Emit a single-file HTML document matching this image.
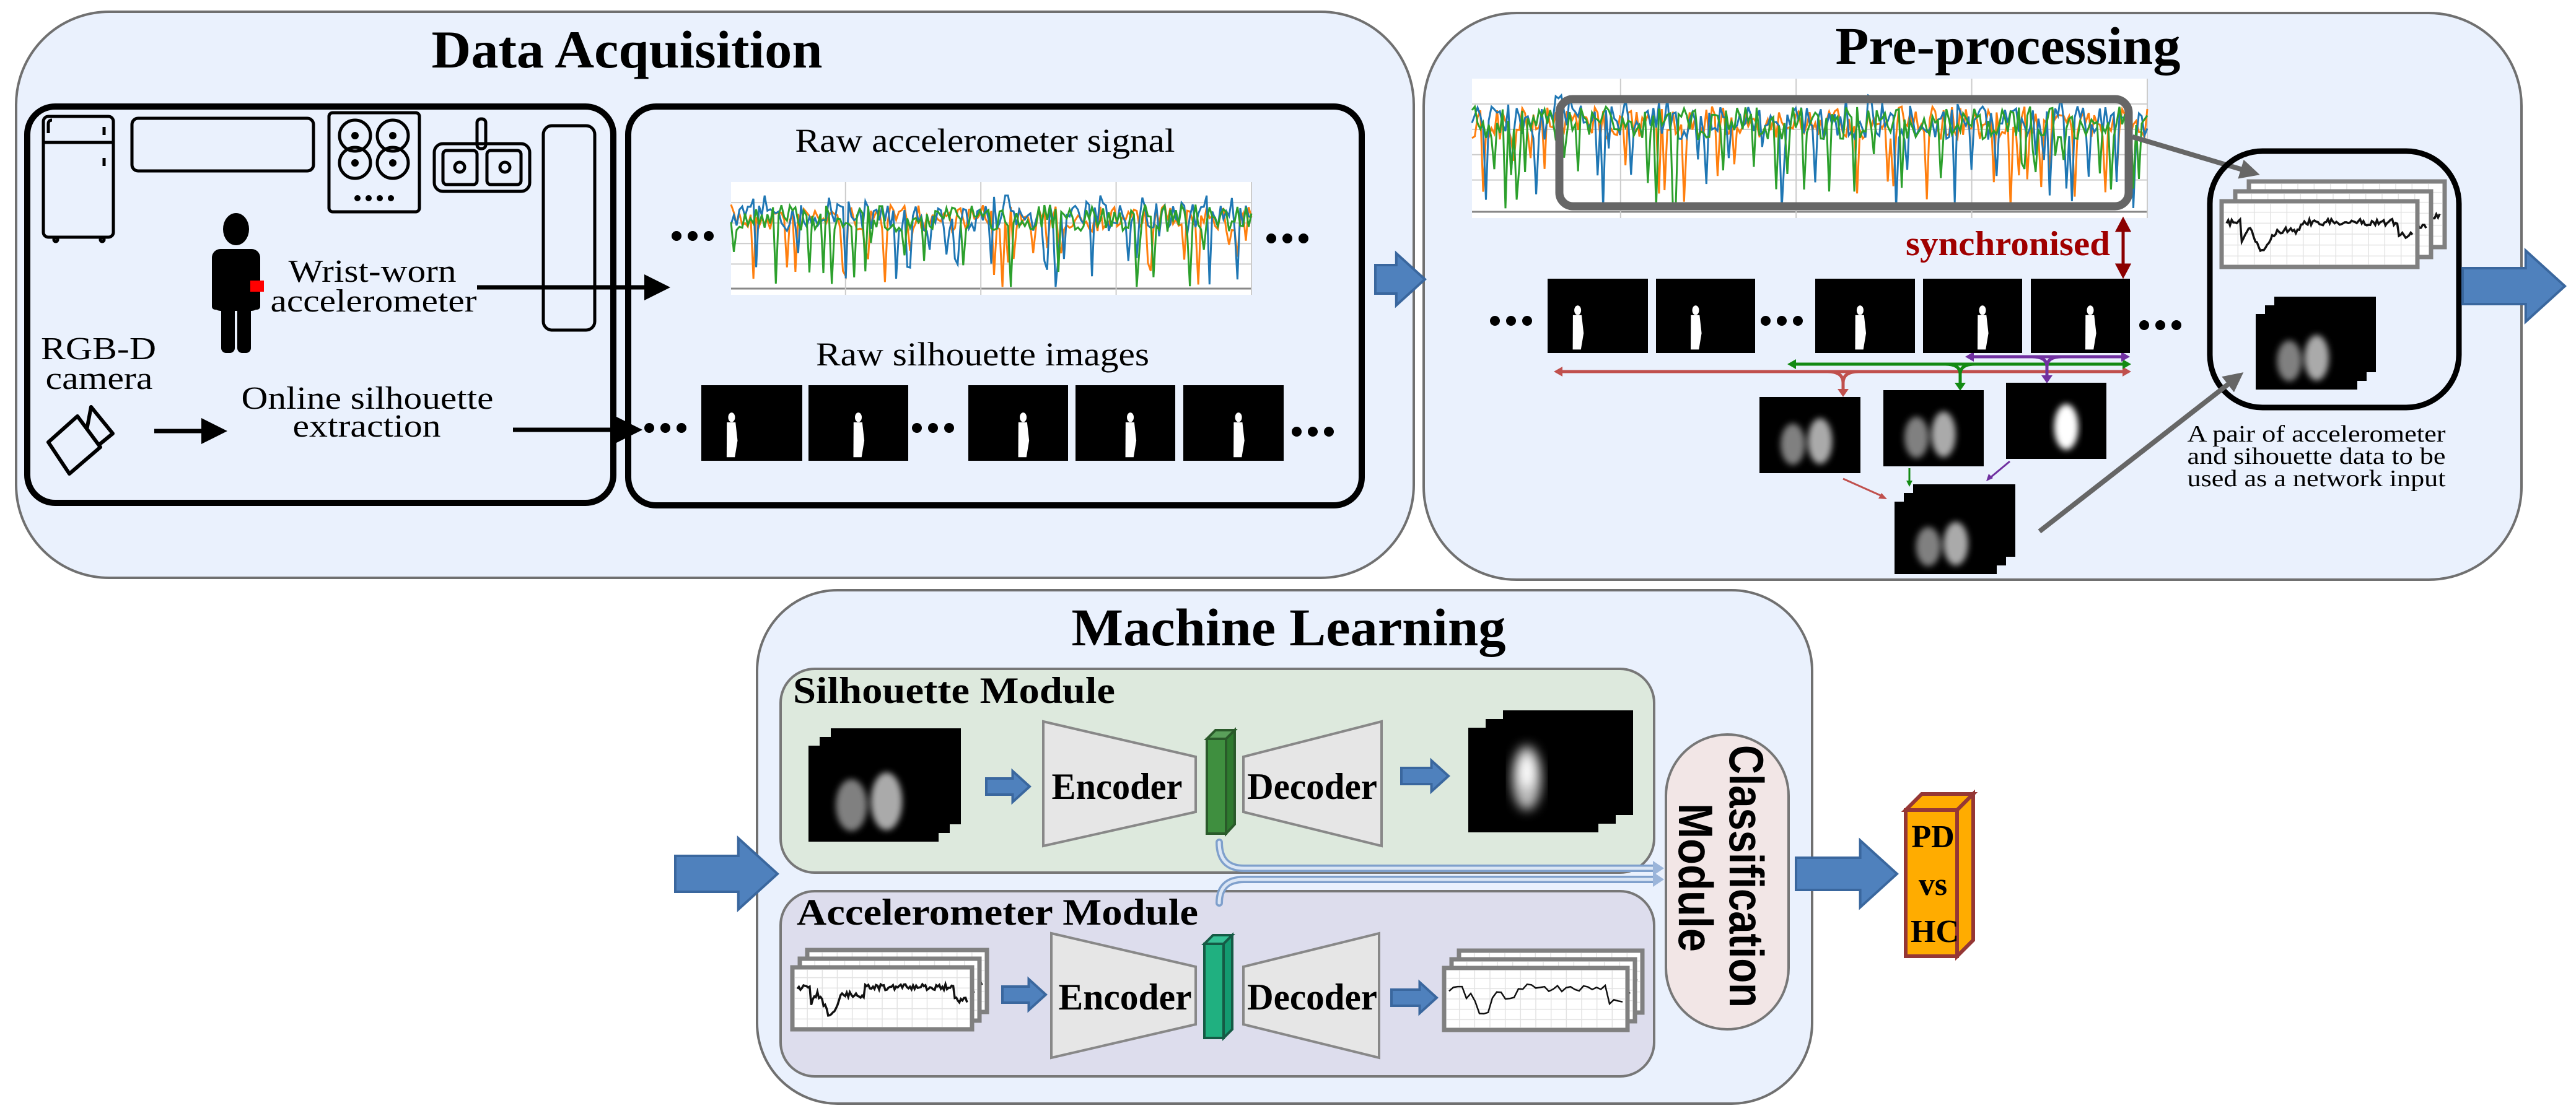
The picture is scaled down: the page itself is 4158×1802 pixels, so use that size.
<!DOCTYPE html>
<html><head><meta charset="utf-8">
<style>
html,body{margin:0;padding:0;background:#fff;}
svg{display:block;}
.t{font-family:"Liberation Serif",serif;fill:#000;}
.b{font-weight:bold;}
</style></head>
<body>
<svg id="s" xmlns="http://www.w3.org/2000/svg" width="4158" height="1802" viewBox="0 0 4158 1802">
<defs>
<filter id="bl" x="-20%" y="-20%" width="140%" height="140%"><feGaussianBlur stdDeviation="5"/></filter>
<filter id="bl2" x="-20%" y="-20%" width="140%" height="140%"><feGaussianBlur stdDeviation="9"/></filter>
<marker id="ah" markerWidth="6" markerHeight="6" refX="5" refY="3" orient="auto" markerUnits="strokeWidth"><path d="M0,0 L6,3 L0,6 z" fill="#000"/></marker>
<marker id="ahg" markerWidth="4" markerHeight="4" refX="3" refY="2" orient="auto" markerUnits="strokeWidth"><path d="M0,0 L4,2 L0,4 z" fill="#666"/></marker>
</defs>

<rect x="26" y="19" width="2256" height="914" rx="150" ry="150" fill="#eaf1fd" stroke="#707070" stroke-width="4"/>
<rect x="2298" y="21" width="1772" height="915" rx="150" ry="150" fill="#eaf1fd" stroke="#707070" stroke-width="4"/>
<rect x="1222" y="953" width="1703" height="829" rx="130" ry="130" fill="#eaf1fd" stroke="#707070" stroke-width="4"/>

<text class="t b" x="1012" y="109" font-size="86" text-anchor="middle" textLength="631" lengthAdjust="spacingAndGlyphs">Data Acquisition</text>
<text class="t b" x="3241" y="103" font-size="86" text-anchor="middle" textLength="557" lengthAdjust="spacingAndGlyphs">Pre-processing</text>
<text class="t b" x="2080" y="1042" font-size="86" text-anchor="middle" textLength="701" lengthAdjust="spacingAndGlyphs">Machine Learning</text>

<rect x="44" y="172" width="946" height="640" rx="45" fill="none" stroke="#000" stroke-width="10"/>
<rect x="1014" y="172" width="1184" height="644" rx="45" fill="none" stroke="#000" stroke-width="10"/>

<g fill="none" stroke="#000" stroke-width="5">
<rect x="70" y="188" width="113" height="195" rx="8"/>
<line x1="70" y1="230" x2="183" y2="230"/>
<line x1="168" y1="205" x2="168" y2="218"/><line x1="168" y1="255" x2="168" y2="268"/>
<path d="M78,215 v-15 q0,-6 6,-6"/>
<circle cx="90" cy="387" r="3"/><circle cx="165" cy="387" r="3"/>
<rect x="213" y="191" width="293" height="85" rx="10"/>
<rect x="531" y="182" width="146" height="160" rx="6"/>
<circle cx="573" cy="219" r="25"/><circle cx="634" cy="219" r="25"/>
<circle cx="573" cy="263" r="25"/><circle cx="634" cy="263" r="25"/>
<rect x="701" y="232" width="154" height="77" rx="14"/>
<rect x="715" y="243" width="55" height="55" rx="6"/><rect x="786" y="243" width="55" height="55" rx="6"/>
<circle cx="742" cy="270" r="8"/><circle cx="815" cy="270" r="8"/>
<rect x="770" y="192" width="14" height="48" rx="6"/>
<rect x="877" y="203" width="83" height="330" rx="14"/>
</g>
<g fill="#000">
<circle cx="573" cy="219" r="6"/><circle cx="634" cy="219" r="6"/><circle cx="573" cy="263" r="6"/><circle cx="634" cy="263" r="6"/>
<circle cx="577" cy="320" r="5"/><circle cx="595" cy="320" r="5"/><circle cx="613" cy="320" r="5"/><circle cx="631" cy="320" r="5"/>
<ellipse cx="381" cy="370" rx="21" ry="26"/>
<rect x="342" y="402" width="78" height="100" rx="14"/>
<rect x="342" y="440" width="12" height="60" rx="5"/><rect x="408" y="440" width="12" height="60" rx="5"/>
<rect x="357" y="470" width="22" height="100" rx="8"/><rect x="383" y="470" width="22" height="100" rx="8"/>
</g>
<rect x="404" y="453" width="22" height="18" fill="#f00"/>

<text class="t" x="601" y="455" font-size="52" text-anchor="middle" textLength="271" lengthAdjust="spacingAndGlyphs">Wrist-worn</text>
<text class="t" x="603" y="503" font-size="52" text-anchor="middle" textLength="333" lengthAdjust="spacingAndGlyphs">accelerometer</text>
<line x1="770" y1="464" x2="1075" y2="464" stroke="#000" stroke-width="7" marker-end="url(#ah)"/>

<text class="t" x="159" y="580" font-size="52" text-anchor="middle" textLength="186" lengthAdjust="spacingAndGlyphs">RGB-D</text>
<text class="t" x="160" y="628" font-size="52" text-anchor="middle" textLength="173" lengthAdjust="spacingAndGlyphs">camera</text>
<g fill="none" stroke="#000" stroke-width="6" stroke-linejoin="round">
<path d="M78,714 L125,672 L162,722 L112,765 Z"/>
<path d="M140,694 L147,657 L182,700 L160,718"/>
</g>
<line x1="249" y1="696" x2="360" y2="696" stroke="#000" stroke-width="7" marker-end="url(#ah)"/>
<text class="t" x="593" y="660" font-size="52" text-anchor="middle" textLength="407" lengthAdjust="spacingAndGlyphs">Online silhouette</text>
<text class="t" x="592" y="705" font-size="52" text-anchor="middle" textLength="239" lengthAdjust="spacingAndGlyphs">extraction</text>
<line x1="828" y1="694" x2="1030" y2="694" stroke="#000" stroke-width="7" marker-end="url(#ah)"/>

<text class="t" x="1590" y="245" font-size="54" text-anchor="middle" textLength="613" lengthAdjust="spacingAndGlyphs">Raw accelerometer signal</text>
<text class="t" x="1586" y="590" font-size="54" text-anchor="middle" textLength="538" lengthAdjust="spacingAndGlyphs">Raw silhouette images</text>

<g id="chart1"></g>
<g id="chart2"></g>
<g fill="#000" id="dots"></g>

<rect x="2517" y="160" width="919" height="173" rx="22" fill="none" stroke="#666" stroke-width="13"/>
<line x1="3442" y1="221" x2="3640" y2="280" stroke="#666" stroke-width="8" marker-end="url(#ahg)"/>
<rect x="3567" y="244" width="402" height="414" rx="85" fill="none" stroke="#000" stroke-width="9"/>
<line x1="3292" y1="858" x2="3615" y2="606" stroke="#666" stroke-width="8" marker-end="url(#ahg)"/>
<text class="t" x="3739" y="713" font-size="38" text-anchor="middle" textLength="417" lengthAdjust="spacingAndGlyphs">A pair of accelerometer</text>
<text class="t" x="3739" y="749" font-size="38" text-anchor="middle" textLength="417" lengthAdjust="spacingAndGlyphs">and sihouette data to be</text>
<text class="t" x="3739" y="785" font-size="38" text-anchor="middle" textLength="417" lengthAdjust="spacingAndGlyphs">used as a network input</text>

<text class="t b" x="3241" y="412" font-size="56" text-anchor="middle" style="fill:#a00000" textLength="330" lengthAdjust="spacingAndGlyphs">synchronised</text>
<g stroke="#8b0000" stroke-width="5" fill="#8b0000">
<line x1="3427" y1="370" x2="3427" y2="430"/>
<path d="M3418,372 L3427,355 L3436,372 Z"/><path d="M3418,428 L3427,445 L3436,428 Z"/>
</g>

<g fill="none" stroke-width="5">
<path d="M2515,600 H3432" stroke="#c0504d"/>
<path d="M2950,600 q25,0 25,18 v14" stroke="#c0504d"/>
<path d="M3000,600 q-25,0 -25,18" stroke="#c0504d"/>
<path d="M2893,588 H3432" stroke="#138a13"/>
<path d="M3140,588 q24,0 24,16 v18" stroke="#138a13"/>
<path d="M3188,588 q-24,0 -24,16" stroke="#138a13"/>
<path d="M3180,576 H3430" stroke="#7030a0"/>
<path d="M3280,576 q24,0 24,16 v18" stroke="#7030a0"/>
<path d="M3328,576 q-24,0 -24,16" stroke="#7030a0"/>
</g>
<g>
<path d="M2508,600 l14,-8 v16 z" fill="#c0504d"/><path d="M3440,600 l-14,-8 v16 z" fill="#c0504d"/><path d="M2966,628 h18 l-9,13 z" fill="#c0504d"/>
<path d="M2885,588 l14,-8 v16 z" fill="#138a13"/><path d="M3440,588 l-14,-8 v16 z" fill="#138a13"/><path d="M3155,618 h18 l-9,13 z" fill="#138a13"/>
<path d="M3172,576 l14,-8 v16 z" fill="#7030a0"/><path d="M3438,576 l-14,-8 v16 z" fill="#7030a0"/><path d="M3295,606 h18 l-9,13 z" fill="#7030a0"/>
</g>
<g stroke-width="3">
<line x1="2975" y1="773" x2="3040" y2="802" stroke="#c0504d"/><path d="M3046,806 l-14,-1 l5,-9 z" fill="#c0504d"/>
<line x1="3082" y1="756" x2="3082" y2="778" stroke="#138a13"/><path d="M3077,776 h10 l-5,10 z" fill="#138a13"/>
<line x1="3244" y1="745" x2="3214" y2="770" stroke="#7030a0"/><path d="M3206,777 l4,-12 l7,7 z" fill="#7030a0"/>
</g>

<rect x="1260" y="1080" width="1410" height="329" rx="55" fill="#dde9dd" stroke="#777" stroke-width="4"/>
<rect x="1260" y="1439" width="1410" height="299" rx="55" fill="#dddded" stroke="#777" stroke-width="4"/>
<text class="t b" x="1280" y="1135" font-size="60" textLength="520" lengthAdjust="spacingAndGlyphs">Silhouette Module</text>
<text class="t b" x="1286" y="1493" font-size="60" textLength="648" lengthAdjust="spacingAndGlyphs">Accelerometer Module</text>
<g fill="#e6e6e6" stroke="#888" stroke-width="4">
<path d="M1684,1165 L1930,1222 L1930,1311 L1684,1366 Z"/>
<path d="M2007,1222 L2230,1165 L2230,1366 L2007,1311 Z"/>
<path d="M1697,1507 L1930,1561 L1930,1654 L1697,1708 Z"/>
<path d="M2007,1561 L2226,1507 L2226,1708 L2007,1654 Z"/>
</g>
<text class="t b" x="1803" y="1290" font-size="60" text-anchor="middle" textLength="211" lengthAdjust="spacingAndGlyphs">Encoder</text>
<text class="t b" x="2118" y="1290" font-size="60" text-anchor="middle" textLength="210" lengthAdjust="spacingAndGlyphs">Decoder</text>
<text class="t b" x="1816" y="1630" font-size="60" text-anchor="middle" textLength="215" lengthAdjust="spacingAndGlyphs">Encoder</text>
<text class="t b" x="2118" y="1630" font-size="60" text-anchor="middle" textLength="210" lengthAdjust="spacingAndGlyphs">Decoder</text>
<g stroke="#2a5a2a" stroke-width="4">
<path d="M1948,1193 l14,-14 h31 l-14,14 z" fill="#5aa05a"/>
<path d="M1979,1193 l14,-14 v152 l-14,15 z" fill="#2e7a2e"/>
<rect x="1948" y="1193" width="31" height="153" fill="#3f8f3f"/>
</g>
<g stroke="#155a45" stroke-width="4">
<path d="M1944,1524 l14,-14 h31 l-14,14 z" fill="#35c095"/>
<path d="M1975,1524 l14,-14 v152 l-14,14 z" fill="#139a70"/>
<rect x="1944" y="1524" width="31" height="152" fill="#20b080"/>
</g>
<g fill="none" stroke-linecap="round">
<path d="M1968,1360 q0,42 40,42 H2670" stroke="#7fa0cc" stroke-width="12"/>
<path d="M1968,1360 q0,42 40,42 H2670" stroke="#dbe6f5" stroke-width="5"/>
<path d="M1968,1458 q0,-38 40,-38 H2670" stroke="#7fa0cc" stroke-width="12"/>
<path d="M1968,1458 q0,-38 40,-38 H2670" stroke="#dbe6f5" stroke-width="5"/>
</g>
<path d="M2668,1390 l18,12 l-18,12 z" fill="#9bb5da"/><path d="M2668,1408 l18,12 l-18,12 z" fill="#9bb5da"/>

<rect x="2689" y="1186" width="198" height="476" rx="99" fill="#f2e6e6" stroke="#777" stroke-width="4"/>
<g transform="translate(2792,1415) rotate(90)">
<text x="0" y="0" font-family="Liberation Sans,sans-serif" font-weight="bold" font-size="78" text-anchor="middle" textLength="424" lengthAdjust="spacingAndGlyphs">Classification</text>
</g>
<g transform="translate(2710,1417) rotate(90)">
<text x="0" y="0" font-family="Liberation Sans,sans-serif" font-weight="bold" font-size="78" text-anchor="middle" textLength="240" lengthAdjust="spacingAndGlyphs">Module</text>
</g>

<g stroke="#953735" stroke-width="6" stroke-linejoin="miter">
<path d="M3076,1308 L3102,1282 L3185,1282 L3159,1308 Z" fill="#ffac00"/>
<path d="M3159,1308 L3185,1282 L3185,1518 L3159,1544 Z" fill="#ffac00"/>
<rect x="3076" y="1308" width="83" height="236" fill="#ffac00"/>
</g>
<text class="t b" x="3120" y="1368" font-size="52" text-anchor="middle">PD</text>
<text class="t b" x="3120" y="1445" font-size="52" text-anchor="middle">vs</text>
<text class="t b" x="3123" y="1521" font-size="52" text-anchor="middle">HC</text>

<g id="sils"></g>
<g id="barrows"></g>
</svg>
<script>
(function(){
var NS="http://www.w3.org/2000/svg",S=document.getElementById('s');
function el(t,a,p){var e=document.createElementNS(NS,t);for(var k in a)e.setAttribute(k,a[k]);(p||S).appendChild(e);return e;}
var seed=7;function R(){seed=(seed*16807)%2147483647;return (seed-1)/2147483646;}
function chart(g,x,y,w,h){
  g=document.getElementById(g);
  el('rect',{x:x,y:y,width:w,height:h,fill:'#fff'},g);
  for(var i=1;i<5;i++)el('line',{x1:x,x2:x+w,y1:y+h*i/5.5,y2:y+h*i/5.5,stroke:'#ccc','stroke-width':2},g);
  el('line',{x1:x,x2:x+w,y1:y+h-10,y2:y+h-10,stroke:'#888','stroke-width':3},g);
  for(var i=0;i<4;i++)el('line',{x1:x+w*(0.22+i*0.26),x2:x+w*(0.22+i*0.26),y1:y,y2:y+h,stroke:'#ccc','stroke-width':2},g);
  var cols=['#ff7f0e','#1f77b4','#2ca02c'];
  for(var c=0;c<3;c++){var d='',n=Math.floor(w/4.5);
    for(var i=0;i<=n;i++){var v=0.32+0.12*(R()-0.5)*2;
      if(R()<0.1)v+=0.25+0.35*R();
      if(c==1&&R()<0.25)v-=0.1;
      d+=(i?'L':'M')+(x+i*w/n).toFixed(1)+','+(y+h*Math.min(0.93,Math.max(0.12,v))).toFixed(1);}
    el('path',{d:d,fill:'none',stroke:cols[c],'stroke-width':3},g);}
}
chart('chart1',1180,294,840,182);
chart('chart2',2376,127,1090,225);
var D=document.getElementById('dots');
function dots(x,y,sp){for(var i=0;i<3;i++)el('circle',{cx:x+i*sp,cy:y,r:8},D);}
dots(1092,381,26);dots(2052,385,26);dots(1048,691,26);dots(1480,691,26);dots(2093,697,26);
dots(2413,518,26);dots(2850,518,26);dots(3461,525,26);
var SG=document.getElementById('sils');
function sil(x,y,w,h,px,py,s){
  el('rect',{x:x,y:y,width:w,height:h,fill:'#000'},SG);
  var cx=x+w*px,cy=y+h*py;s=s||1;
  el('ellipse',{cx:cx,cy:cy-h*0.25*s,rx:5*s,ry:7*s,fill:'#fff'},SG);
  el('path',{d:'M'+(cx-7*s)+','+(cy-h*0.19*s)+' h14 l'+(3*s)+','+(h*0.22*s)+' l-'+(4*s)+','+(h*0.2*s)+' h-'+(12*s)+' z',fill:'#fff'},SG);
}
[[1132,1295],[1305,1466],[1563,1724],[1736,1897],[1910,2072]].forEach(function(a,i){sil(a[0],622,a[1]-a[0],122,[0.3,0.5,0.55,0.55,0.55][i],0.7,1.1);});
[[2498,2660],[2673,2833],[2930,3091],[3104,3264],[3278,3438]].forEach(function(a,i){sil(a[0],450,a[1]-a[0],120,[0.3,0.4,0.45,0.6,0.6][i],0.7,1.1);});
function gsil(x,y,w,h,two){
  el('rect',{x:x,y:y,width:w,height:h,fill:'#000'},SG);
  var g=el('g',{filter:'url(#bl)'},SG);
  if(two){el('ellipse',{cx:x+w*0.33,cy:y+h*0.62,rx:w*0.12,ry:h*0.27,fill:'#808080'},g);}
  el('ellipse',{cx:x+w*0.6,cy:y+h*0.58,rx:w*0.12,ry:h*0.3,fill:two?'#aaa':'#fff'},g);
}
function gstack(x,y,w,h,dx,dy,two){gsil(x+2*dx,y-2*dy,w,h,two);gsil(x+dx,y-dy,w,h,two);gsil(x,y,w,h,two);}
gsil(2840,641,163,123,true);gsil(3040,630,162,123,true);gsil(3238,618,162,123,false);
gstack(3058,810,165,117,15,14,true);
gstack(3641,507,164,122,15,14,true);
gstack(1305,1204,210,155,18,14,true);
(function(){var x=2370,y=1175,w=210,h=169;for(var k=2;k>=0;k--){el('rect',{x:x+k*28,y:y-k*14,width:w,height:h,fill:'#000'},SG);}
var g=el('g',{filter:'url(#bl2)'},SG);el('ellipse',{cx:x+w*0.45,cy:y+h*0.48,rx:24,ry:52,fill:'#bbb'},g);el('ellipse',{cx:x+w*0.45,cy:y+h*0.42,rx:12,ry:26,fill:'#fff'},g);})();
function aplot(x,y,w,h,smooth){
  el('rect',{x:x,y:y,width:w,height:h,fill:'#fff',stroke:'#808080','stroke-width':7},SG);
  for(var i=1;i<12;i++)el('line',{x1:x+w*i/12,x2:x+w*i/12,y1:y+4,y2:y+h-4,stroke:'#e3e3e3','stroke-width':1.5},SG);
  for(var i=1;i<6;i++)el('line',{x1:x+4,x2:x+w-4,y1:y+h*i/6,y2:y+h*i/6,stroke:'#e3e3e3','stroke-width':1.5},SG);
  var d='',n=smooth?40:110;
  for(var i=0;i<=n;i++){var t=i/n,v;
    if(t<0.08)v=0.3;else if(t<0.28)v=0.65+0.2*Math.sin(t*40);else if(t<0.4)v=0.45;else if(t<0.92)v=0.3;else v=0.55;
    v+=(R()-0.5)*(smooth?0.15:0.12);
    d+=(i?'L':'M')+(x+8+t*(w-16)).toFixed(1)+','+(y+8+v*(h-20)).toFixed(1);}
  el('path',{d:d,fill:'none',stroke:'#111','stroke-width':smooth?2.5:3.5},SG);
}
function astack(x,y,w,h,dx,dy,sm){for(var k=2;k>=0;k--)aplot(x+k*dx,y-k*dy,w,h,sm);}
astack(3586,325,316,106,22,16);
astack(1279,1562,290,100,12,14);
astack(2331,1563,296,100,12,14,true);
var B=document.getElementById('barrows');
function barrow(x1,x2,cy,bh,hh){var hx=x2-(hh*0.55);
  el('path',{d:'M'+x1+','+(cy-bh/2)+' H'+hx+' V'+(cy-hh/2)+' L'+x2+','+cy+' L'+hx+','+(cy+hh/2)+' V'+(cy+bh/2)+' H'+x1+' Z',fill:'#4f81bd',stroke:'#3a679e','stroke-width':4},B);}
barrow(2220,2300,451,46,84);
barrow(3975,4140,462,58,115);
barrow(1090,1255,1411,58,115);
barrow(2899,3062,1411,52,108);
barrow(1592,1662,1270,26,50);
barrow(2262,2338,1253,26,50);
barrow(1618,1688,1606,26,50);
barrow(2246,2319,1611,26,50);
})();
</script>
</body></html>
